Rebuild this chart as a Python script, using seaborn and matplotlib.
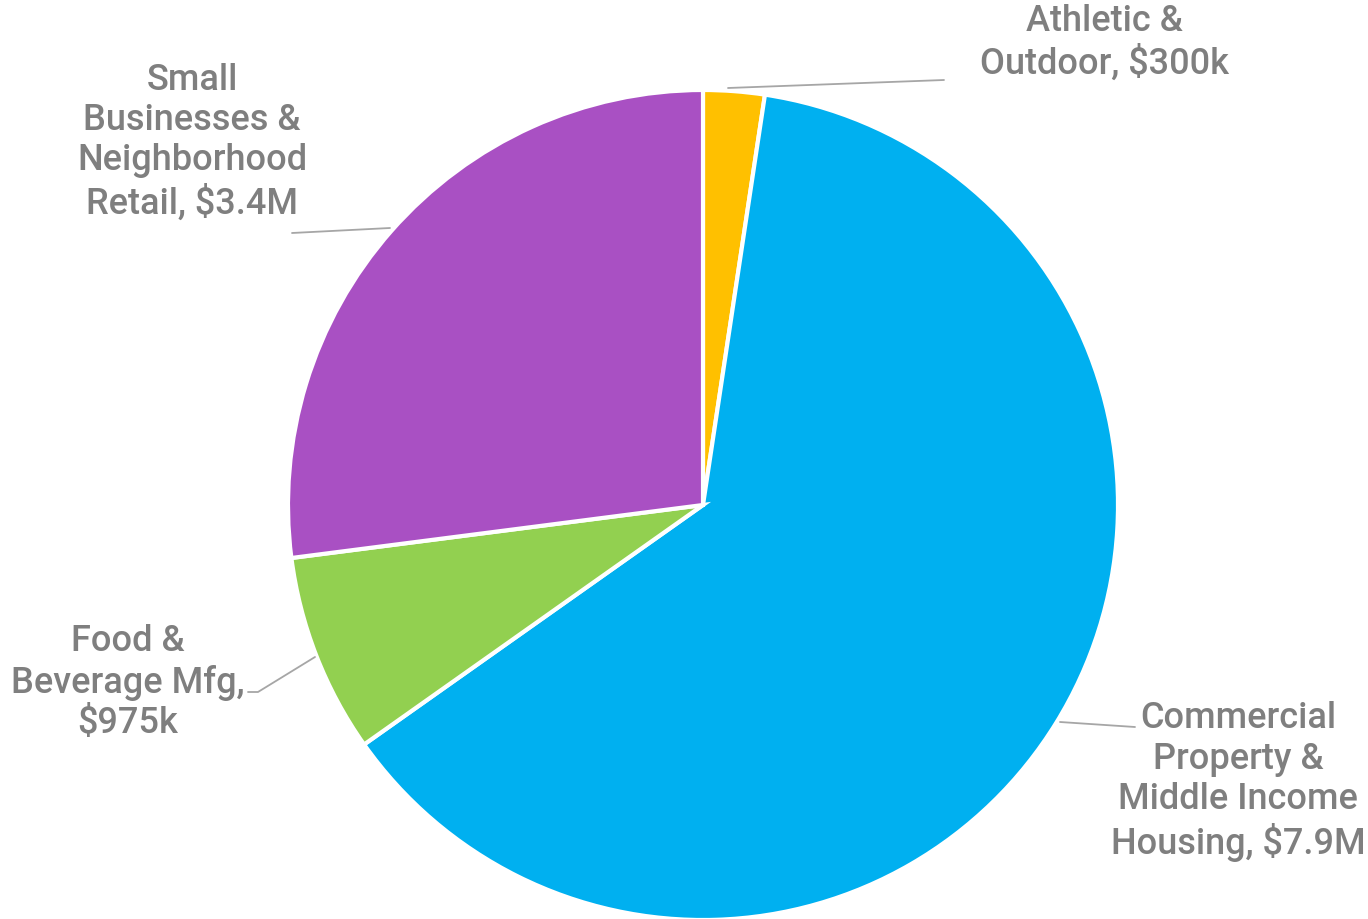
import matplotlib
matplotlib.use("Agg")
import matplotlib.pyplot as plt
import seaborn as sns

sns.set_theme(style="white")
plt.rcParams['font.family'] = ['Roboto', 'DejaVu Sans']

categories = ["Athletic &\nOutdoor, $300k",
              "Commercial\nProperty &\nMiddle Income\nHousing, $7.9M",
              "Food &\nBeverage Mfg,\n$975k",
              "Small\nBusinesses &\nNeighborhood\nRetail, $3.4M"]
values = [0.300, 7.9, 0.975, 3.4]
colors = ["#FFC000", "#00B0F0", "#92D050", "#A950C3"]

W, H = 1368, 920
fig = plt.figure(figsize=(W / 100, H / 100), dpi=100)
ax = fig.add_axes([0, 0, 1, 1])
cx, cy, r = 703, H - 506, 415
ax.pie(values, colors=colors, startangle=90, counterclock=False,
       center=(cx, cy), radius=r,
       wedgeprops=dict(edgecolor="white", linewidth=3))
ax.set_xlim(0, W)
ax.set_ylim(0, H)
ax.axis("off")

label_pos = [(1104, 43), (1238, 782), (128, 683), (192, 142)]
leaders = [[(728, 89), (944, 81)],
           [(1060, 723), (1135, 728)],
           [(315, 658), (258, 693), (248, 693)],
           [(390, 229), (292, 234)]]
gray = "#7F7F7F"
for lab, (x, y), pts in zip(categories, label_pos, leaders):
    ax.text(x, H - y, lab, ha="center", va="center", multialignment="center",
            fontsize=26, color=gray, linespacing=1.2, fontweight="medium")
    ax.plot([p[0] for p in pts], [H - p[1] for p in pts], color="#A6A6A6", lw=1.3)

fig.savefig("out.png", dpi=100)
